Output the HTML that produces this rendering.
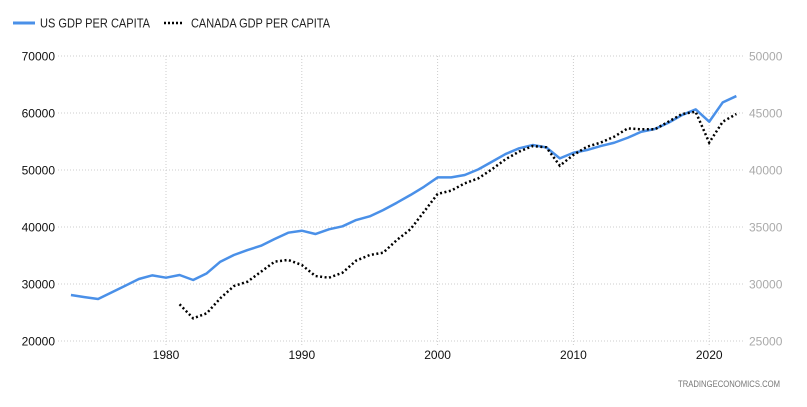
<!DOCTYPE html>
<html><head><meta charset="utf-8"><style>
body{margin:0;background:#fff;}
svg{display:block;font-family:"Liberation Sans",sans-serif;}
</style></head><body>
<svg width="807" height="407">
<g>
<line x1="13" y1="23" x2="35" y2="23" stroke="#4a90e8" stroke-width="3"/>
<text x="40" y="27.5" font-size="12.5" fill="#222" textLength="110" lengthAdjust="spacingAndGlyphs">US GDP PER CAPITA</text>
<line x1="164" y1="23" x2="184" y2="23" stroke="#000" stroke-width="2.5" stroke-dasharray="2,2"/>
<text x="191" y="27.5" font-size="12.5" fill="#222" textLength="139" lengthAdjust="spacingAndGlyphs">CANADA GDP PER CAPITA</text>
</g>
<g id="grid"></g>
<g id="axes"></g>
<g id="series"></g>
<text x="678" y="387" font-size="9.5" fill="#777" textLength="102" lengthAdjust="spacingAndGlyphs">TRADINGECONOMICS.COM</text>
</svg>
<script>
const usYears=[1973,1974,1975,1976,1977,1978,1979,1980,1981,1982,1983,1984,1985,1986,1987,1988,1989,1990,1991,1992,1993,1994,1995,1996,1997,1998,1999,2000,2001,2002,2003,2004,2005,2006,2007,2008,2009,2010,2011,2012,2013,2014,2015,2016,2017,2018,2019,2020,2021,2022];
const usValues=[28070,27700,27370,28540,29700,30880,31520,31110,31580,30700,31870,33910,35090,35960,36720,37890,39000,39350,38770,39590,40120,41220,41870,42980,44260,45610,47060,48700,48700,49120,50110,51450,52800,53800,54380,53970,52040,53030,53500,54200,54780,55660,56710,57190,58290,59640,60640,58470,61870,62970];
const caYears=[1981,1982,1983,1984,1985,1986,1987,1988,1989,1990,1991,1992,1993,1994,1995,1996,1997,1998,1999,2000,2001,2002,2003,2004,2005,2006,2007,2008,2009,2010,2011,2012,2013,2014,2015,2016,2017,2018,2019,2020,2021,2022];
const caValues=[28220,26990,27430,28750,29820,30200,31080,31960,32110,31670,30700,30550,30990,32050,32540,32750,33860,34800,36340,37900,38190,38830,39270,40060,40940,41610,42100,41990,40380,41320,42040,42400,42920,43650,43570,43570,44240,44910,45110,42400,44240,44910];
const leftTicks=[20000,30000,40000,50000,60000,70000];
const rightTicks=[25000,30000,35000,40000,45000,50000];
const xTicks=[1980,1990,2000,2010,2020];
const NS="http://www.w3.org/2000/svg";
const X=yr=>166+13.58*(yr-1980);
const YL=v=>341-(v-20000)*57/10000;
const YR=v=>341-(v-25000)*57/5000;
function mk(tag,attrs,parent){const e=document.createElementNS(NS,tag);for(const k in attrs)e.setAttribute(k,attrs[k]);parent.appendChild(e);return e;}
const grid=document.getElementById('grid'),axes=document.getElementById('axes'),series=document.getElementById('series');
leftTicks.forEach(v=>{const y=YL(v);
const l=mk('line',{x1:58,x2:745,y1:y,y2:y,stroke:'#ccc','stroke-dasharray':'1,2'},grid);


const t=mk('text',{x:55,y:y+4.5,'font-size':12,fill:'#111','text-anchor':'end'},axes);t.textContent=v;


});
rightTicks.forEach(v=>{const y=YR(v);
const t=mk('text',{x:749,y:y+4.5,'font-size':12,fill:'#aaa'},axes);t.textContent=v;


});
xTicks.forEach(yr=>{const x=X(yr);
const l=mk('line',{x1:x,x2:x,y1:56,y2:345,stroke:'#ccc','stroke-dasharray':'1,2'},grid);


const t=mk('text',{x:x,y:359,'font-size':12,fill:'#111','text-anchor':'middle'},axes);t.textContent=yr;


});
const us=mk('polyline',{points:usYears.map((y,i)=>X(y)+','+YL(usValues[i])).join(' '),fill:'none',stroke:'#4a90e8','stroke-width':2.5,'stroke-linejoin':'round'},series);


const ca=mk('polyline',{points:caYears.map((y,i)=>X(y)+','+YR(caValues[i])).join(' '),fill:'none',stroke:'#000','stroke-width':2.5,'stroke-dasharray':'2,2.5'},series);


</script>
</body></html>
